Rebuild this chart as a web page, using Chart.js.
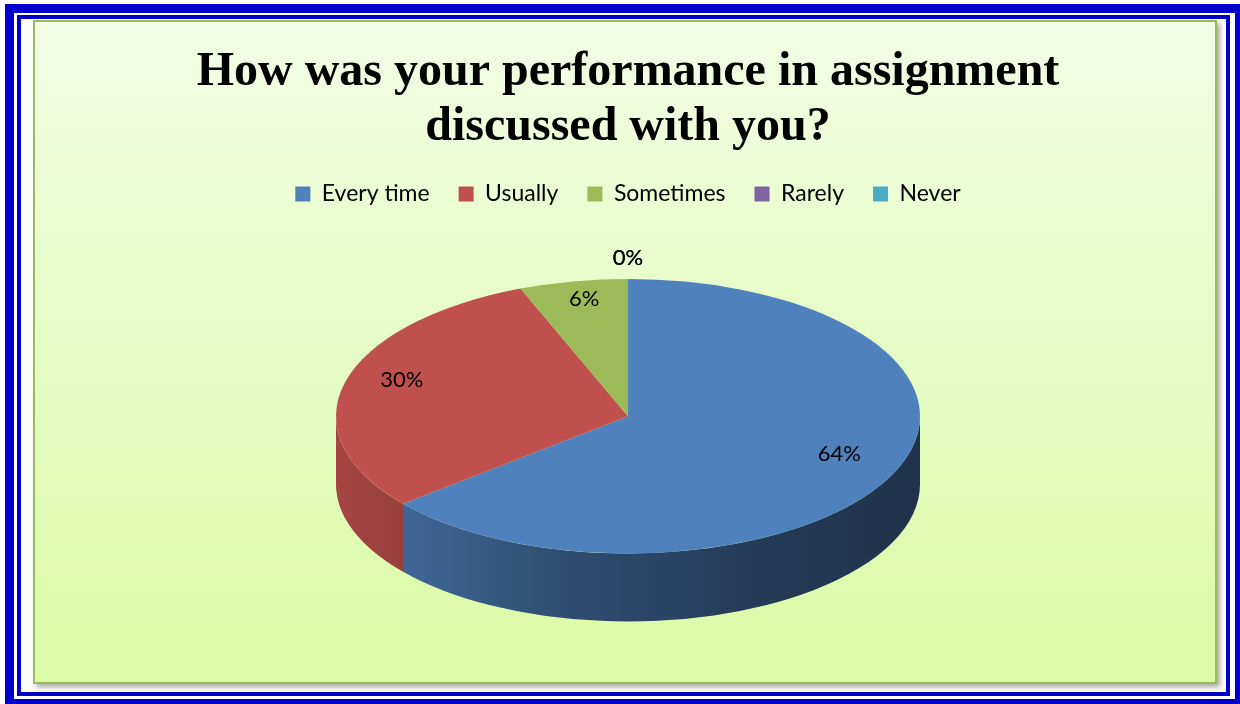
<!DOCTYPE html>
<html><head><meta charset="utf-8">
<script src="https://cdn.jsdelivr.net/npm/chart.js@4"></script>
<style>
html,body{margin:0;padding:0;width:1240px;height:704px;overflow:hidden;background:#fff;}
#outer{position:absolute;left:5px;top:4px;width:1239px;height:704px;border:9px solid #0000CC;box-sizing:border-box;}
#inner{position:absolute;left:17px;top:15px;width:1213px;height:681px;border:4px solid #0000CC;box-sizing:border-box;}
#box{position:absolute;left:33px;top:20px;width:1184px;height:664px;border:2px solid #9BBB59;box-sizing:border-box;background:linear-gradient(#F2FDE4,#DAFBA6);box-shadow:3px 3px 5px rgba(0,0,0,0.35);}
#wrap{position:absolute;left:0;top:0;width:1240px;height:704px;}
</style></head>
<body>
<div id="outer"></div><div id="inner"></div><div id="box"></div>
<div id="wrap"><canvas id="c" width="1240" height="704"></canvas></div>
<script>
const titleLines = ['How was your performance in assignment', 'discussed with you?'];
const categories = ['Every time', 'Usually', 'Sometimes', 'Rarely', 'Never'];
const values = [64, 30, 6, 0, 0];
const colors = ['#4F81BD', '#C0504D', '#9BBB59', '#8064A2', '#4BACC6'];

const TILT = 0.47;      // vertical squash of the pie top
const DEPTH = 0.233;    // wall depth as a fraction of radius
const LABEL_FONT = '22px Lato, "Open Sans", sans-serif';

function shade(hex, f) {
  const n = parseInt(hex.slice(1), 16);
  const r = Math.round(((n >> 16) & 255) * f), g = Math.round(((n >> 8) & 255) * f), b = Math.round((n & 255) * f);
  return `rgb(${r},${g},${b})`;
}

const pie3d = {
  id: 'pie3d',
  beforeDatasetsDraw(chart) {
    const ctx = chart.ctx;
    const meta = chart.getDatasetMeta(0);
    const a0 = meta.data[0];
    const cx = a0.x, cy = a0.y, R = a0.outerRadius, ry = R * TILT, d = R * DEPTH;
    meta.data.forEach((arc, i) => {
      const s = Math.max(arc.startAngle, 0), e = Math.min(arc.endAngle, Math.PI);
      if (e <= s) return;
      const col = colors[i];
      const g = ctx.createLinearGradient(cx - R, 0, cx + R, 0);
      g.addColorStop(0, shade(col, 0.86));
      g.addColorStop(0.08, shade(col, 0.82));
      g.addColorStop(0.39, shade(col, 0.60));
      g.addColorStop(0.73, shade(col, 0.46));
      g.addColorStop(1, shade(col, 0.39));
      ctx.save();
      ctx.beginPath();
      ctx.ellipse(cx, cy, R, ry, 0, s, e, false);
      ctx.ellipse(cx, cy + d, R, ry, 0, e, s, true);
      ctx.closePath();
      ctx.fillStyle = g;
      ctx.fill();
      ctx.restore();
    });
    ctx.save();
    ctx.translate(cx, cy);
    ctx.scale(1, TILT);
    ctx.translate(-cx, -cy);
  },
  afterDatasetsDraw(chart) {
    const ctx = chart.ctx;
    ctx.restore();
    const meta = chart.getDatasetMeta(0);
    ctx.save();
    ctx.font = LABEL_FONT;
    ctx.fillStyle = '#000';
    ctx.textAlign = 'center';
    ctx.textBaseline = 'middle';
    meta.data.forEach((arc, i) => {
      const m = (arc.startAngle + arc.endAngle) / 2;
      const f = values[i] === 0 ? 1.15 : 0.8;
      const r = arc.outerRadius * f;
      const x = arc.x + r * Math.cos(m);
      const y = arc.y + r * TILT * Math.sin(m) - (values[i] === 0 ? 0 : 9);
      ctx.fillText(values[i] + '%', x, y);
    });
    ctx.restore();
  }
};

new Chart(document.getElementById('c'), {
  type: 'pie',
  data: {
    labels: categories,
    datasets: [{
      data: values,
      backgroundColor: colors,
      borderWidth: 0,
      radius: 292,
      clip: false
    }]
  },
  options: {
    responsive: false,
    animation: false,
    events: [],
    layout: { padding: { left: 16, right: 0, top: 45, bottom: 87 } },
    plugins: {
      title: {
        display: true,
        text: titleLines,
        color: '#000',
        font: { family: '"Liberation Serif", "Times New Roman", serif', size: 48, weight: 'bold', lineHeight: 1.15 },
        padding: { top: 0, bottom: -2 }
      },
      legend: {
        position: 'top',
        labels: {
          color: '#000',
          font: { family: 'Lato, "Open Sans", sans-serif', size: 23 },
          boxWidth: 15, boxHeight: 15, padding: 29
        }
      },
      tooltip: { enabled: false }
    }
  },
  plugins: [pie3d]
});
</script>
</body></html>
